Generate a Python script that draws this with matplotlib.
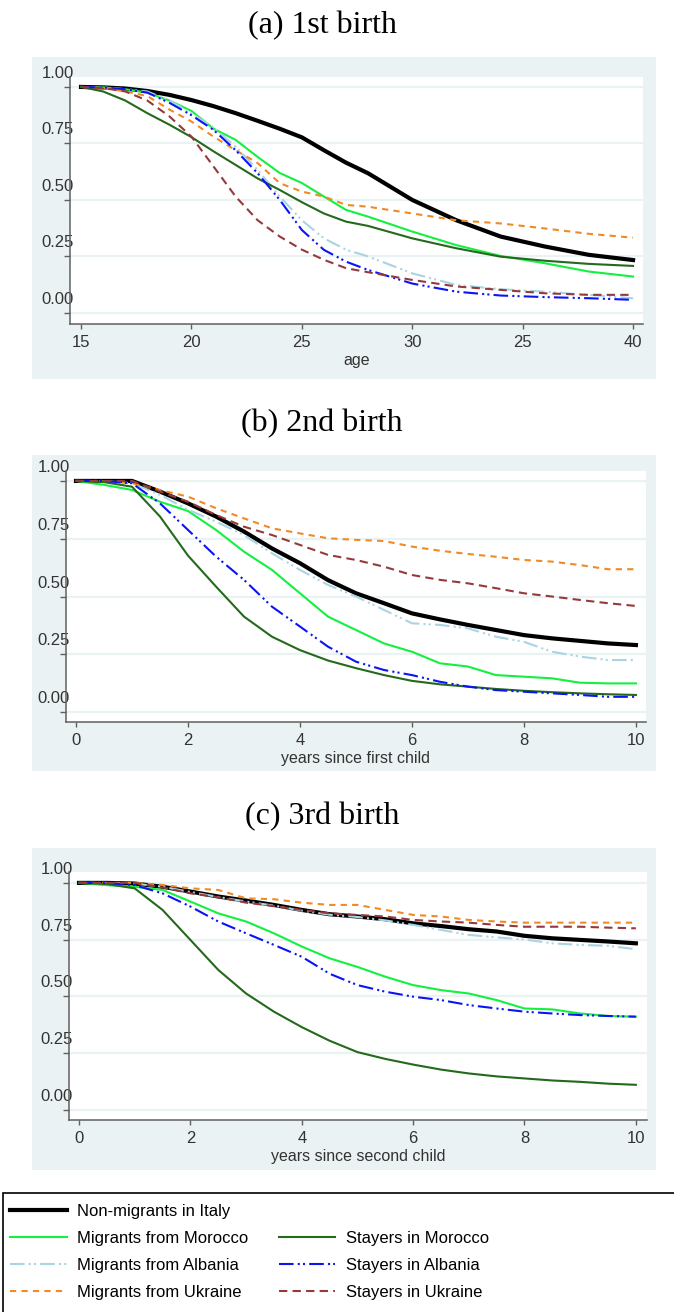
import matplotlib
matplotlib.use('Agg')
import matplotlib.pyplot as plt
import matplotlib.transforms as mtransforms
from matplotlib.patches import Rectangle
from matplotlib.lines import Line2D

# series names and styles (legend order)
names = ['Non-migrants in Italy', 'Migrants from Morocco', 'Migrants from Albania',
         'Migrants from Ukraine', 'Stayers in Morocco', 'Stayers in Albania', 'Stayers in Ukraine']

# (a) 1st birth, by age
age = [15, 16, 17, 18, 19, 20, 21, 22, 23, 24, 25, 26, 27, 28, 30, 32, 34, 36, 38, 40]
a_italy = [1.0, 0.998, 0.993, 0.982, 0.965, 0.942, 0.915, 0.884, 0.85, 0.815, 0.777, 0.72, 0.665, 0.618, 0.5, 0.41, 0.338, 0.294, 0.257, 0.234]
a_mig_mor = [1.0, 0.998, 0.99, 0.975, 0.94, 0.894, 0.815, 0.766, 0.69, 0.619, 0.575, 0.515, 0.456, 0.426, 0.36, 0.3, 0.252, 0.22, 0.183, 0.161]
a_mig_alb = [1.0, 0.998, 0.99, 0.98, 0.94, 0.884, 0.82, 0.736, 0.633, 0.515, 0.41, 0.33, 0.28, 0.25, 0.175, 0.124, 0.105, 0.094, 0.08, 0.065]
a_mig_ukr = [1.0, 0.995, 0.98, 0.96, 0.9, 0.847, 0.78, 0.72, 0.663, 0.574, 0.537, 0.515, 0.478, 0.47, 0.44, 0.41, 0.396, 0.374, 0.35, 0.333]
a_st_mor = [1.0, 0.98, 0.94, 0.884, 0.833, 0.778, 0.715, 0.655, 0.595, 0.544, 0.49, 0.44, 0.404, 0.385, 0.33, 0.286, 0.249, 0.231, 0.217, 0.208]
a_st_alb = [1.0, 0.998, 0.99, 0.975, 0.93, 0.875, 0.81, 0.72, 0.618, 0.5, 0.367, 0.279, 0.227, 0.19, 0.13, 0.094, 0.077, 0.07, 0.065, 0.058]
a_st_ukr = [1.0, 0.995, 0.98, 0.94, 0.87, 0.78, 0.648, 0.515, 0.41, 0.338, 0.28, 0.235, 0.198, 0.18, 0.146, 0.117, 0.102, 0.087, 0.08, 0.08]

# (b) 2nd birth and (c) 3rd birth, by years since previous child
yrs = [0, 0.5, 1, 1.5, 2, 2.5, 3, 3.5, 4, 4.5, 5, 5.5, 6, 6.5, 7, 7.5, 8, 8.5, 9, 9.5, 10]
b_italy = [1, 1, 1, 0.954, 0.903, 0.846, 0.781, 0.708, 0.644, 0.571, 0.514, 0.471, 0.427, 0.401, 0.377, 0.355, 0.333, 0.319, 0.308, 0.297, 0.29]
b_mig_mor = [1, 0.983, 0.961, 0.91, 0.87, 0.788, 0.694, 0.615, 0.514, 0.413, 0.355, 0.297, 0.261, 0.211, 0.197, 0.16, 0.153, 0.146, 0.127, 0.124, 0.124]
b_mig_alb = [1, 1, 0.99, 0.94, 0.875, 0.824, 0.766, 0.687, 0.615, 0.55, 0.5, 0.442, 0.384, 0.377, 0.362, 0.326, 0.304, 0.261, 0.24, 0.225, 0.225]
b_mig_ukr = [1, 0.998, 0.99, 0.961, 0.932, 0.882, 0.838, 0.795, 0.773, 0.752, 0.745, 0.74, 0.716, 0.698, 0.684, 0.672, 0.658, 0.651, 0.636, 0.618, 0.618]
b_st_mor = [1, 0.995, 0.975, 0.846, 0.677, 0.543, 0.413, 0.326, 0.268, 0.223, 0.19, 0.16, 0.135, 0.12, 0.11, 0.1, 0.092, 0.086, 0.081, 0.077, 0.074]
b_st_alb = [1, 1, 0.99, 0.903, 0.788, 0.673, 0.572, 0.456, 0.37, 0.283, 0.218, 0.182, 0.16, 0.131, 0.11, 0.095, 0.088, 0.081, 0.074, 0.066, 0.066]
b_st_ukr = [1, 1, 1, 0.954, 0.91, 0.853, 0.802, 0.766, 0.723, 0.68, 0.658, 0.629, 0.593, 0.572, 0.557, 0.536, 0.514, 0.5, 0.485, 0.471, 0.459]

c_italy = [1, 1, 0.997, 0.983, 0.962, 0.94, 0.922, 0.903, 0.881, 0.862, 0.852, 0.84, 0.822, 0.81, 0.796, 0.786, 0.767, 0.756, 0.749, 0.742, 0.734]
c_mig_mor = [1, 0.99, 0.983, 0.969, 0.918, 0.866, 0.83, 0.778, 0.72, 0.668, 0.63, 0.587, 0.55, 0.528, 0.513, 0.484, 0.447, 0.443, 0.425, 0.414, 0.411]
c_mig_alb = [1, 1, 0.997, 0.983, 0.96, 0.938, 0.918, 0.9, 0.878, 0.86, 0.85, 0.835, 0.815, 0.793, 0.771, 0.76, 0.751, 0.734, 0.727, 0.723, 0.708]
c_mig_ukr = [1, 1, 1, 0.991, 0.976, 0.969, 0.932, 0.928, 0.913, 0.903, 0.903, 0.881, 0.859, 0.852, 0.837, 0.83, 0.825, 0.825, 0.825, 0.825, 0.825]
c_st_mor = [1, 0.995, 0.976, 0.881, 0.749, 0.617, 0.513, 0.433, 0.365, 0.305, 0.255, 0.225, 0.2, 0.178, 0.161, 0.148, 0.139, 0.13, 0.124, 0.116, 0.111]
c_st_alb = [1, 1, 0.99, 0.954, 0.896, 0.83, 0.778, 0.727, 0.675, 0.6, 0.55, 0.521, 0.499, 0.484, 0.462, 0.447, 0.433, 0.425, 0.418, 0.414, 0.411]
c_st_ukr = [1, 1, 1, 0.98, 0.954, 0.937, 0.913, 0.898, 0.881, 0.866, 0.859, 0.852, 0.837, 0.83, 0.825, 0.815, 0.807, 0.807, 0.807, 0.803, 0.8]

yticks = [0, 0.25, 0.5, 0.75, 1.0]
ytick_labels = ['0.00', '0.25', '0.50', '0.75', '1.00']
a_xticks = [15, 20, 25, 30, 35, 40]
a_xtick_labels = ['15', '20', '25', '30', '25', '40']
bc_xticks = [0, 2, 4, 6, 8, 10]
bc_xtick_labels = ['0', '2', '4', '6', '8', '10']

colors = ['black', '#14f040', '#a9d4e4', '#f08a24', '#24691c', '#0a14f5', '#953a3a']
widths = [3.0, 1.5, 1.5, 1.5, 1.5, 1.5, 1.5]
dashes = [None, None, (7, 2, 1, 1.5, 1, 2), (3, 2.5), None, (7, 2, 1, 1.5, 1, 2), (4, 2.5)]

W, H = 674, 1312
fig = plt.figure(figsize=(W / 100, H / 100), dpi=100)
BG = '#eaf2f3'


def fx(x):
    return x / W


def fy(y):
    return 1 - y / H


panels = [
    dict(title='(a) 1st birth', ty=26, bg=(57, 379), box=(70, 77, 643, 324),
         x=age, ys=[a_italy, a_mig_mor, a_mig_alb, a_mig_ukr, a_st_mor, a_st_alb, a_st_ukr],
         xlim=(14.5, 40.45), ylim=(-0.049, 1.044), xt=a_xticks, xtl=a_xtick_labels, xlabel='age'),
    dict(title='(b) 2nd birth', ty=424, bg=(455, 771), box=(66, 471, 646, 722),
         x=yrs, ys=[b_italy, b_mig_mor, b_mig_alb, b_mig_ukr, b_st_mor, b_st_alb, b_st_ukr],
         xlim=(-0.179, 10.18), ylim=(-0.043, 1.043), xt=bc_xticks, xtl=bc_xtick_labels,
         xlabel='years since first child'),
    dict(title='(c) 3rd birth', ty=817, bg=(848, 1170), box=(69, 872, 647, 1120),
         x=yrs, ys=[c_italy, c_mig_mor, c_mig_alb, c_mig_ukr, c_st_mor, c_st_alb, c_st_ukr],
         xlim=(-0.18, 10.2), ylim=(-0.044, 1.048), xt=bc_xticks, xtl=bc_xtick_labels,
         xlabel='years since second child'),
]

handles = []
for k, p in enumerate(panels):
    # grey Stata-like background, behind the axes
    y0, y1 = p['bg']
    fig.patches.append(Rectangle((fx(32), fy(y1)), fx(656) - fx(32), fy(y0) - fy(y1),
                                 transform=fig.transFigure, facecolor=BG, edgecolor='none', zorder=-5))
    fig.text(fx(322), fy(p['ty']), p['title'], ha='center', va='center',
             fontsize=23, family='Liberation Serif')
    l, t, r, b = p['box']
    ax = fig.add_axes([fx(l), fy(b), fx(r) - fx(l), fy(t) - fy(b)])
    ax.set_facecolor('white')
    for i in range(len(names)):
        ln, = ax.plot(p['x'], p['ys'][i], color=colors[i], lw=widths[i], label=names[i])
        if dashes[i] is not None:
            ln.set_dashes(dashes[i])
        if k == 0:
            handles.append(ln)
    ax.set_xlim(*p['xlim'])
    ax.set_ylim(*p['ylim'])
    ax.set_yticks(yticks)
    ax.set_yticklabels(ytick_labels)
    ax.set_xticks(p['xt'])
    ax.set_xticklabels(p['xtl'])
    ax.grid(axis='y', color=BG, lw=1.6)
    ax.set_axisbelow(True)
    for s in ['top', 'right']:
        ax.spines[s].set_visible(False)
    for s in ['left', 'bottom']:
        ax.spines[s].set_color('#606060')
        ax.spines[s].set_linewidth(1.1)
    ax.tick_params(axis='y', length=4.3, width=1, color='#606060', pad=0,
                   labelsize=12, labelcolor='#333333')
    ax.tick_params(axis='x', length=3.6, width=1, color='#606060', pad=4,
                   labelsize=12, labelcolor='#333333')
    shift = mtransforms.ScaledTranslation(0.10, 0.15, fig.dpi_scale_trans)
    for lab in ax.get_yticklabels():
        lab.set_transform(lab.get_transform() + shift)
        lab.set_family('Liberation Sans')
    for lab in ax.get_xticklabels():
        lab.set_family('Liberation Sans')
    ax.set_xlabel(p['xlabel'], fontsize=11.5, family='Liberation Sans', color='#333333')
    ax.xaxis.set_label_coords(0.5, -36 / (b - t))
    ax.xaxis.label.set_va('center')

# legend box at the bottom
fig.patches.append(Rectangle((fx(3), fy(1330)), fx(690) - fx(3), fy(1193) - fy(1330),
                             transform=fig.transFigure, facecolor='white', edgecolor='black',
                             lw=1.2, zorder=1))
blank = Line2D([], [], color='none', label=' ')
order = handles[:4] + [blank] + handles[4:]
leg = fig.legend(handles=order, labels=[h.get_label() for h in order], ncol=2,
                 loc='upper left', bbox_to_anchor=(fx(10), fy(1204)), frameon=False,
                 borderaxespad=0, borderpad=0, handlelength=3.4, handletextpad=0.65,
                 labelspacing=0.72, columnspacing=1.8,
                 prop={'family': 'Liberation Sans', 'size': 12})
leg.set_zorder(2)

plt.savefig('out.png', dpi=100)
